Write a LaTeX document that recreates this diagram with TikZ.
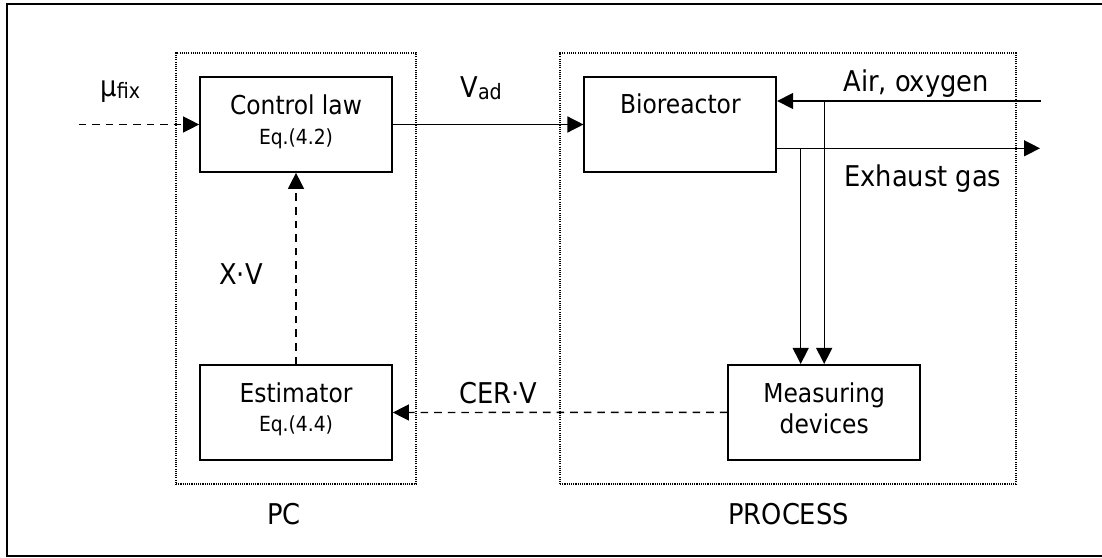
\documentclass[tikz,border=0pt]{standalone}
\usepackage{fontspec}
\IfFontExistsTF{DejaVu Sans Condensed}
  {\setmainfont{DejaVu Sans Condensed}}
  {\setmainfont[FakeStretch=0.9]{DejaVu Sans}}
\usetikzlibrary{arrows.meta}

% type sizes (picture unit: 1 = 0.5pt)
\newcommand\bxfont{\fontsize{13}{15}\selectfont}
\newcommand\lbfont{\fontsize{14.3}{16}\selectfont}
\newcommand\eqsize{\fontsize{10.4}{12}\selectfont}
\newcommand\subsize{\fontsize{10.6}{12}\selectfont}

\tikzset{
  frame/.style={draw, line width=0.8pt},
  grp/.style={draw, line width=0.6pt, dash pattern=on 0.55pt off 0.55pt,
    minimum height=215.5pt, inner sep=0pt},
  blk/.style={draw, line width=0.85pt, minimum width=96pt,
    minimum height=47.5pt, inner sep=0pt},
  tip/.style={-{Triangle[length=8pt,width=8pt]}},
  flow/.style={line width=0.7pt, tip},
  sig/.style={flow, dash pattern=on 3.8pt off 3pt},
  btxt/.style={inner sep=0pt, anchor=base, font=\bxfont},
  etxt/.style={inner sep=0pt, anchor=base, font=\eqsize},
  lbl/.style={inner sep=0pt, anchor=base west, font=\lbfont},
}

\begin{document}
\begin{tikzpicture}[x=0.5pt, y=-0.5pt]
  \useasboundingbox (0,0) rectangle (1102,557);

  % outer frame
  \draw[frame] (7,4) rectangle (1108,556);

  % dotted groups
  \node[grp, minimum width=120pt] (pc) at (296,268.5) {};
  \node[grp, minimum width=228pt] (proc) at (788,268.5) {};

  % blocks
  \node[blk] (ctrl) at (296,124.5) {};
  \node[btxt] (ctrlA) at (296,114) {Control law};
  \node[etxt] (ctrlB) at (296,144) {Eq.(4.2)};

  \node[blk] (est) at (296,412.5) {};
  \node[btxt] (estA) at (296,402) {Estimator};
  \node[etxt] (estB) at (296,431) {Eq.(4.4)};

  \node[blk] (bio) at (680.3,124.5) {};
  \node[btxt] (bioA) at (680.3,113) {Bioreactor};

  \node[blk] (meas) at (824.2,412.3) {};
  \node[btxt] (measA) at (824.2,402.7) {Measuring};
  \node[btxt] (measB) at (824.2,433) {devices};

  % free ends of the connectors
  \coordinate (muS) at (78.5,124.5);
  \coordinate (airS) at (1041,101);
  \coordinate (exE) at (1040,148.3);
  \coordinate (tapA) at (800.7,148.3);
  \coordinate (tapB) at (824.2,101);

  % connectors
  \draw[sig] (muS) -- (ctrl.west);
  \draw[flow] (ctrl.east) -- (bio.west);
  \draw[sig] (est.north) -- (ctrl.south);
  \draw[sig] (meas.west) -- (est.east);
  \draw[flow] (airS) -- (airS -| bio.east);
  \draw[flow] (exE -| bio.east) -- (exE);
  \draw[flow] (tapA) -- (tapA |- meas.north);
  \draw[flow] (tapB) -- (meas.north);

  % signal labels
  \node[lbl] (mu) at (100,96) {μ\raisebox{-1pt}{\subsize fix}};
  \node[lbl] (vad) at (460,97.3) {V\raisebox{-1.2pt}{\subsize ad}};
  \node[lbl, anchor=base] (xv) at (241,284) {X·V};
  \node[lbl] (cerv) at (459,403) {CER·V};
  \node[lbl] (air) at (843,91) {Air, oxygen};
  \node[lbl] (exh) at (844,186.7) {Exhaust gas};

  % group titles
  \node[lbl, anchor=base] (pcT) at (284,524) {PC};
  \node[lbl] (procT) at (728,524) {PROCESS};
\end{tikzpicture}
\end{document}
